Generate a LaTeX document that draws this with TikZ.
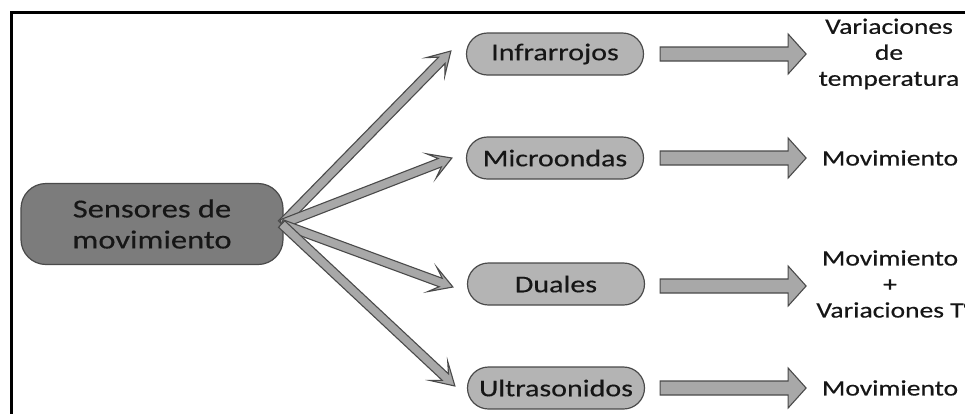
\documentclass[tikz,border=0pt]{standalone}
\usepackage{fontspec}
\setmainfont[FakeStretch=1.25,FakeBold=0.4]{Carlito}
\usetikzlibrary{calc}
\definecolor{maingray}{HTML}{7C7C7C}
\definecolor{nodegray}{HTML}{B4B4B4}
\definecolor{arrgray}{HTML}{A8A8A8}
\definecolor{edgegray}{HTML}{4A4A4A}
\definecolor{txt}{HTML}{161616}
\tikzset{
  mainbox/.style={rounded corners=25pt, minimum width=262pt, minimum height=81pt,
    fill=maingray, draw=edgegray, line width=1.2pt, align=center, text=txt,
    font=\fontsize{26}{31}\selectfont},
  sensorbox/.style={rounded corners=21pt, minimum width=177pt, minimum height=42pt,
    fill=nodegray, draw=edgegray, line width=1.2pt, text=txt,
    font=\fontsize{24}{28}\selectfont},
  resbox/.style={align=center, inner sep=0pt, text=txt,
    font=\fontsize{22}{26}\selectfont},
  arrowshape/.style={fill=arrgray, draw=edgegray, line width=1.1pt, line join=miter},
  framestyle/.style={line width=3pt, draw=black}
}
% #1 start, #2 tip, #3 shaft half width, #4 head half width, #5 inner head length, #6 outer head length
\newcommand\blockarr[6]{%
  \draw[arrowshape] let \p1=($(#2)!#5!(#1)$), \p2=($(#2)!#6!(#1)$) in
    ($(#1)!#3!90:(#2)$) -- ($(\p1)!#3!90:(#2)$) -- ($(\p2)!#4!90:(#2)$) -- (#2)
    -- ($(\p2)!#4!-90:(#2)$) -- ($(\p1)!#3!-90:(#2)$) -- ($(#1)!#3!-90:(#2)$) -- cycle;}
\begin{document}
\begin{tikzpicture}[x=1pt,y=-1pt]
\useasboundingbox (0,0) rectangle (965,413);
\fill[white] (0,0) rectangle (965,413);
\draw[framestyle] (975,12.5) -- (11,12.5) -- (11,425);

\node[mainbox] (main) at (152,224) {Sensores de\\movimiento};
\node[sensorbox] (infra) at (555,54) {Infrarrojos};
\node[sensorbox] (micro) at (555,158) {Microondas};
\node[sensorbox] (dual) at (556,284) {Duales};
\node[sensorbox] (ultra) at (556,388) {Ultrasonidos};

\node[resbox] (res1) at (889,54) {Variaciones\\de\\temperatura};
\node[resbox] (res2) at (890,158) {Movimiento};
\node[resbox] (res3) at (890,284) {Movimiento\\+\\Variaciones T\rlap{°}};
\node[resbox] (res4) at (890,388) {Movimiento};

\coordinate (hub) at ($(main.east)+(-2,0)$);
\coordinate (t1) at ($(infra.west)+(-15,-3)$);
\coordinate (t2) at ($(micro.west)+(-14,0)$);
\coordinate (t3) at ($(dual.west)+(-14,3)$);
\coordinate (t4) at ($(ultra.west)+(-12,-2)$);
\blockarr{hub}{t1}{4.5pt}{13pt}{13pt}{22pt}
\blockarr{hub}{t2}{4.5pt}{13pt}{13pt}{22pt}
\blockarr{hub}{t3}{4.5pt}{13pt}{13pt}{22pt}
\blockarr{hub}{t4}{4.5pt}{13pt}{13pt}{22pt}

\coordinate (h1s) at ($(infra.east)+(16,0)$);
\coordinate (h1e) at ($(infra.east)+(162,0)$);
\coordinate (h2s) at ($(micro.east)+(16,0)$);
\coordinate (h2e) at ($(micro.east)+(162,0)$);
\coordinate (h3s) at ($(dual.east)+(15,2)$);
\coordinate (h3e) at ($(dual.east)+(161,2)$);
\coordinate (h4s) at ($(ultra.east)+(15,0)$);
\coordinate (h4e) at ($(ultra.east)+(161,0)$);
\blockarr{h1s}{h1e}{7pt}{20pt}{18pt}{18pt}
\blockarr{h2s}{h2e}{7pt}{20pt}{18pt}{18pt}
\blockarr{h3s}{h3e}{7pt}{20pt}{18pt}{18pt}
\blockarr{h4s}{h4e}{7pt}{20pt}{18pt}{18pt}
\end{tikzpicture}
\end{document}
